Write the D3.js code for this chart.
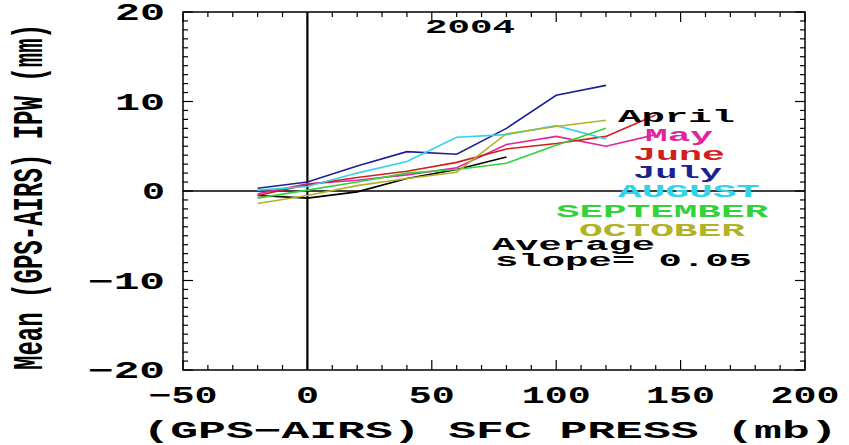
<!DOCTYPE html>
<html>
<head>
<meta charset="utf-8">
<script src="https://cdn.jsdelivr.net/npm/d3@7"></script>
<style>
  html, body { margin: 0; padding: 0; background: #fff; }
  svg { display: block; }
</style>
</head>
<body>
<div id="chart"></div>
<script>
// pressure difference bins (mb)
const PRESS = [-20, 0, 20, 40, 60, 80, 100, 120, 140];

// mean IPW difference (mm) per month, one value per bin
const APRIL     = [-0.5, -0.8, -0.1, 1.4, 2.4, 3.8];
const MAY       = [-0.3, 0.8, 1.2, 1.8, 2.6, 5.2, 6.1, 5.0, 6.3];
const JUNE      = [-0.5, 0.7, 1.5, 2.2, 3.2, 4.7, 5.3, 6.1, 8.5];
const JULY      = [0.3, 1.0, 2.8, 4.4, 4.1, 7.0, 10.7, 11.8];
const AUGUST    = [0.1, 0.5, 2.0, 3.3, 6.0, 6.3, 7.3, 5.8];
const SEPTEMBER = [-0.8, 0.1, 1.0, 2.0, 2.4, 3.1, 5.1, 7.0];
const OCTOBER   = [-1.4, -0.5, 0.6, 1.4, 2.1, 6.4, 7.2, 7.9];

const MONTHS = ["April", "May", "June", "July", "AUGUST", "SEPTEMBER", "OCTOBER"];
const SERIES = [APRIL, MAY, JUNE, JULY, AUGUST, SEPTEMBER, OCTOBER];
const COLORS = ["#000000", "#e0259f", "#d0201e", "#1c2192", "#33d4ea", "#34d23a", "#b2b226"];

const X_TICKS = [-50, 0, 50, 100, 150, 200];
const Y_TICKS = [-20, -10, 0, 10, 20];

const W = 849, H = 445;
const FONT = "'Liberation Mono', 'Courier New', monospace";

const svg = d3.select("#chart").append("svg")
    .attr("width", W).attr("height", H);

const x = d3.scaleLinear().domain([-50, 200]).range([183, 805]);
const y = d3.scaleLinear().domain([-20, 20]).range([370, 12]);

// stretched bold text, the IDL vector font is much wider than Courier
function label(px, py, str, size, len, color, anchor) {
    return svg.append("text")
        .attr("x", px).attr("y", py)
        .attr("font-family", FONT)
        .attr("font-weight", "bold")
        .attr("font-size", size)
        .attr("fill", color || "#000")
        .attr("text-anchor", anchor || "start")
        .attr("textLength", len)
        .attr("lengthAdjust", "spacingAndGlyphs")
        .text(str);
}

// ticks on all four sides, pointing inward
const xMinor = d3.range(-50, 201, 10);
const yMinor = d3.range(-20, 21, 1);
const tick = svg.append("g").attr("stroke", "#000").attr("stroke-width", 1.2);
xMinor.forEach(v => {
    const L = v % 50 === 0 ? 10 : 5;
    tick.append("line").attr("x1", x(v)).attr("x2", x(v)).attr("y1", y(-20)).attr("y2", y(-20) - L);
    tick.append("line").attr("x1", x(v)).attr("x2", x(v)).attr("y1", y(20)).attr("y2", y(20) + L);
});
yMinor.forEach(v => {
    const L = v % 10 === 0 ? 10 : 5;
    tick.append("line").attr("y1", y(v)).attr("y2", y(v)).attr("x1", x(-50)).attr("x2", x(-50) + L);
    tick.append("line").attr("y1", y(v)).attr("y2", y(v)).attr("x1", x(200)).attr("x2", x(200) - L);
});

// frame
svg.append("rect")
    .attr("x", x(-50)).attr("y", y(20))
    .attr("width", x(200) - x(-50)).attr("height", y(-20) - y(20))
    .attr("fill", "none").attr("stroke", "#000").attr("stroke-width", 1.5);

// zero lines
svg.append("line")
    .attr("x1", x(-50)).attr("x2", x(200)).attr("y1", y(0)).attr("y2", y(0))
    .attr("stroke", "#000").attr("stroke-width", 1.5);
svg.append("line")
    .attr("x1", x(0)).attr("x2", x(0)).attr("y1", y(-20)).attr("y2", y(20))
    .attr("stroke", "#000").attr("stroke-width", 2.2);

// monthly curves
const line = d3.line().x(d => x(d[0])).y(d => y(d[1]));
SERIES.forEach((vals, i) => {
    const pts = vals.map((v, j) => [PRESS[j], v]);
    svg.append("path")
        .attr("d", line(pts))
        .attr("fill", "none")
        .attr("stroke", COLORS[i])
        .attr("stroke-width", 1.6);
});

// tick labels
Y_TICKS.forEach(v => {
    const s = v < 0 ? "\u2212" + Math.abs(v) : String(v);
    label(165, y(v) + 8, s, 23, s.length * 27 - 4, "#000", "end");
});
X_TICKS.forEach(v => {
    const s = v < 0 ? "\u2212" + Math.abs(v) : String(v);
    label(x(v), 403, s, 23, s.length * 23, "#000", "middle");
});

// axis titles
label(490, 438, "(GPS\u2212AIRS) SFC PRESS (mb)", 24, 695, "#000", "middle");
svg.append("text")
    .attr("transform", "translate(42,197) rotate(-90)")
    .attr("font-family", FONT)
    .attr("font-weight", "bold")
    .attr("font-size", 42)
    .attr("text-anchor", "middle")
    .attr("textLength", 346)
    .attr("lengthAdjust", "spacingAndGlyphs")
    .text("Mean (GPS-AIRS) IPW (mm)");

// year
label(470, 33, "2004", 20, 90, "#000", "middle");

// legend
const LEG_X = [618, 645, 633, 633, 618, 556, 579];
const LEG_Y = [122, 141, 160, 178, 197, 217, 236];
const LEG_W = [117, 68, 92, 89, 142, 212, 166];
MONTHS.forEach((m, i) => {
    label(LEG_X[i], LEG_Y[i], m, 18, LEG_W[i], COLORS[i]);
});
label(492, 250, "Average", 18, 163, "#000");
label(495, 266, "slope= 0.05", 18, 257, "#000");
</script>
</body>
</html>
